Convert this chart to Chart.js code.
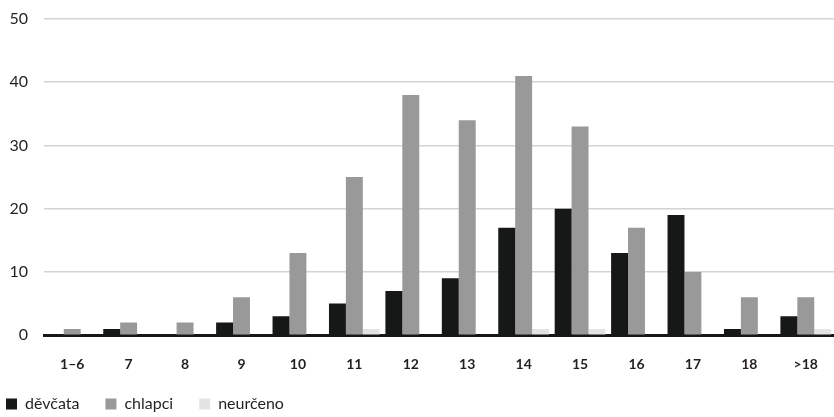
<!DOCTYPE html>
<html>
<head>
<meta charset="utf-8">
<script src="https://cdn.jsdelivr.net/npm/chart.js@4"></script>
<style>
    html, body { margin: 0; padding: 0; background: #fff; }
    #wrap { width: 834px; height: 417px; }
</style>
</head>
<body>
<div id="wrap"><canvas id="ageChart"></canvas></div>
<script>
"use strict";

// Age categories
const AGE_LABELS = ['1–6', '7', '8', '9', '10', '11', '12', '13', '14', '15', '16', '17', '18', '>18'];

// Series values
const GIRLS = [0, 1, 0, 2, 3, 5, 7, 9, 17, 20, 13, 19, 1, 3];
const BOYS = [1, 2, 2, 6, 13, 25, 38, 34, 41, 33, 17, 10, 6, 6];
const UNKNOWN = [0, 0, 0, 0, 0, 1, 0, 0, 1, 1, 0, 0, 0, 1];

// Y axis ticks
const Y_MIN = 0;
const Y_MAX = 50;
const Y_STEP = 10;

const FONT = 'Lato, "Open Sans", sans-serif';

// Move legend to the bottom left corner
const legendShift = {
    id: 'legendShift',
    afterLayout: chart => {
        const legend = chart.legend;
        const pad = legend.options.labels.padding;
        legend.left -= 20;
        legend.right -= 20;
        const top = 404 - pad - 8;
        legend.bottom += top - legend.top;
        legend.top = top;
    }
};

new Chart(document.getElementById('ageChart').getContext('2d'), {
    type: 'bar',
    data: {
        labels: AGE_LABELS,
        datasets: [
            { label: 'děvčata', data: GIRLS, backgroundColor: '#161817' },
            { label: 'chlapci', data: BOYS, backgroundColor: '#999999' },
            { label: 'neurčeno', data: UNKNOWN, backgroundColor: '#e3e3e3' }
        ]
    },
    options: {
        responsive: true,
        maintainAspectRatio: false,
        animation: false,
        layout: {
            autoPadding: false,
            padding: { top: 19, right: 0, bottom: -21, left: 0 }
        },
        datasets: {
            bar: {
                categoryPercentage: 0.9,
                barPercentage: 1.0,
                borderWidth: 0
            }
        },
        scales: {
            x: {
                grid: { display: false },
                border: { color: '#161817', width: 3 },
                ticks: {
                    color: '#231f20',
                    padding: 13,
                    font: { family: FONT, size: 14, weight: 'bold' }
                }
            },
            y: {
                min: Y_MIN,
                max: Y_MAX,
                afterFit: scale => {
                    scale.width = 44;
                    scale.paddingTop = 0;
                    scale.paddingBottom = 0;
                },
                grid: { color: '#d4d4d4', lineWidth: 1.5, drawTicks: false },
                border: { display: false },
                ticks: {
                    stepSize: Y_STEP,
                    color: '#231f20',
                    padding: 16,
                    font: { family: FONT, size: 16 }
                }
            }
        },
        plugins: {
            tooltip: { enabled: false },
            legend: {
                position: 'bottom',
                align: 'start',
                labels: {
                    boxWidth: 11,
                    boxHeight: 11,
                    padding: 26,
                    color: '#231f20',
                    font: { family: FONT, size: 16 }
                }
            }
        }
    },
    plugins: [legendShift]
});
</script>
</body>
</html>
